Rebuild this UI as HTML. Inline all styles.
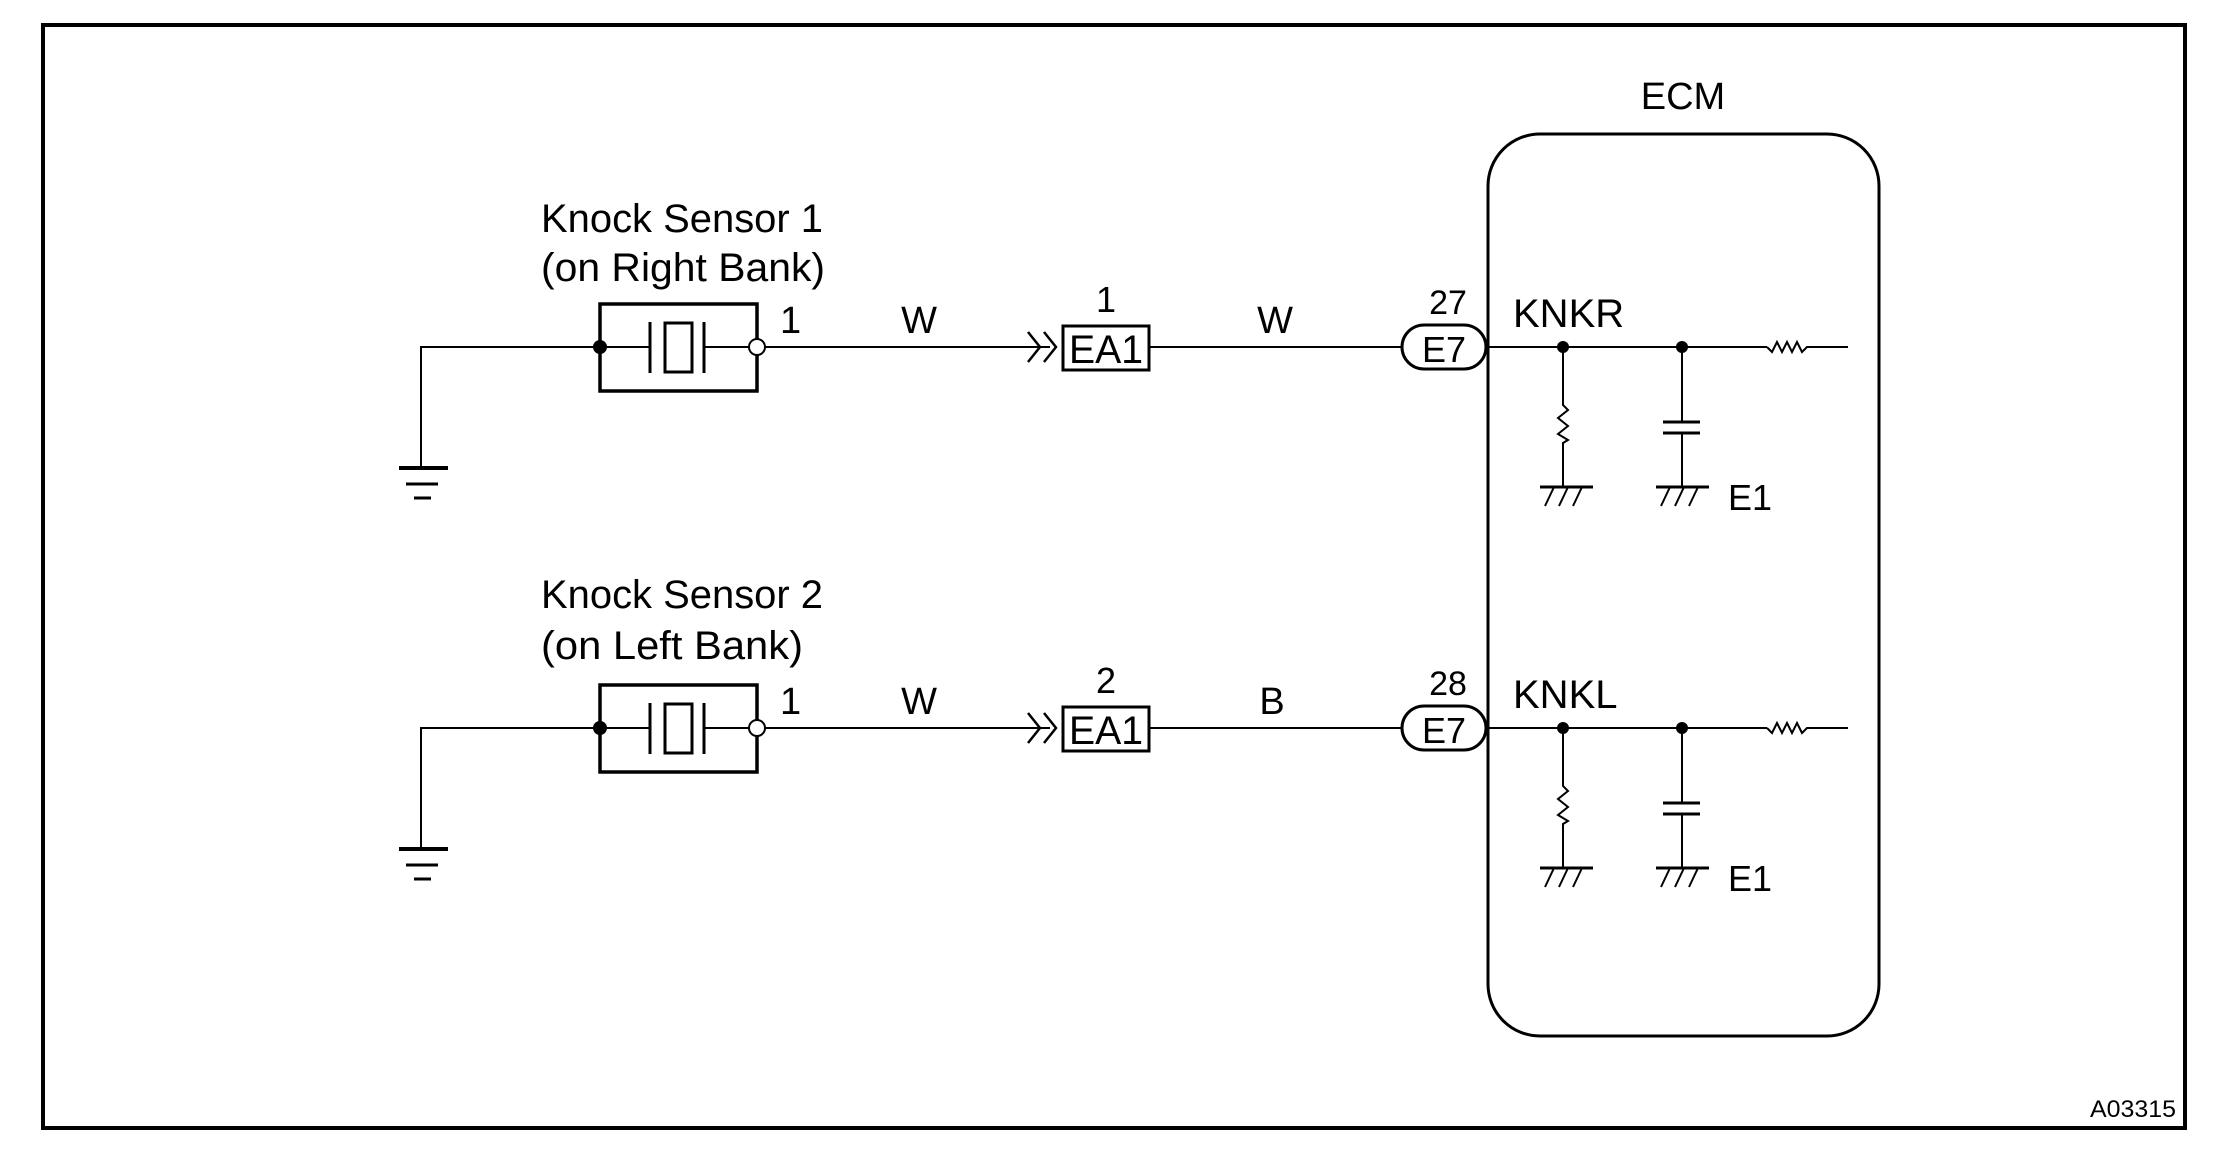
<!DOCTYPE html>
<html><head><meta charset="utf-8">
<style>
html,body{margin:0;padding:0;background:#fff;}
svg{display:block;}
text{font-family:"Liberation Sans",sans-serif;fill:#000;}
</style></head>
<body>
<svg width="2240" height="1154" viewBox="0 0 2240 1154" xmlns="http://www.w3.org/2000/svg">
<rect x="43" y="25" width="2142" height="1103" fill="none" stroke="#000" stroke-width="4"/>
<rect x="1488" y="134" width="391" height="902" rx="52" ry="52" fill="none" stroke="#000" stroke-width="3"/>
<text x="1683" y="109" font-size="38" text-anchor="middle">ECM</text>
<text x="2090" y="1117" font-size="24" textLength="86" lengthAdjust="spacingAndGlyphs">A03315</text>

<defs>
<g id="row" fill="none" stroke="#000">
  <!-- ground -->
  <polyline points="421,468 421,347 600,347" stroke-width="2"/>
  <line x1="399" y1="468" x2="448" y2="468" stroke-width="4"/>
  <line x1="406" y1="484" x2="438" y2="484" stroke-width="3"/>
  <line x1="414" y1="498" x2="431" y2="498" stroke-width="3"/>
  <!-- sensor -->
  <rect x="600" y="304" width="157" height="87" stroke-width="3.5"/>
  <line x1="600" y1="347" x2="650" y2="347" stroke-width="2"/>
  <line x1="704" y1="347" x2="757" y2="347" stroke-width="2"/>
  <line x1="650" y1="322" x2="650" y2="373" stroke-width="3"/>
  <line x1="704" y1="322" x2="704" y2="373" stroke-width="3"/>
  <rect x="665" y="323" width="27" height="49" stroke-width="3"/>
  <circle cx="600" cy="347" r="7" fill="#000" stroke="none"/>
  <circle cx="757" cy="347" r="8" fill="#fff" stroke-width="2"/>
  <!-- wire -->
  <line x1="765" y1="347" x2="1050" y2="347" stroke-width="2"/>
  <polyline points="1028,332 1040,347 1028,362" stroke-width="2.5"/>
  <polyline points="1044,332 1056,347 1044,362" stroke-width="2.5"/>
  <rect x="1063" y="326" width="86" height="44" stroke-width="3"/>
  <line x1="1149" y1="347" x2="1401" y2="347" stroke-width="2"/>
  <rect x="1402" y="325" width="84" height="44" rx="22" ry="22" stroke-width="3"/>
  <!-- ECM internal -->
  <line x1="1488" y1="347" x2="1767" y2="347" stroke-width="2"/>
  <polyline points="1767,347 1772,352 1777,342 1782,352 1787,342 1792,352 1797,342 1802,352 1807,347 1848,347" stroke-width="2"/>
  <circle cx="1563" cy="347" r="6" fill="#000" stroke="none"/>
  <circle cx="1682" cy="347" r="6" fill="#000" stroke="none"/>
  <polyline points="1563,347 1563,405 1568,410 1558,418 1568,426 1558,434 1568,440 1563,443 1563,487" stroke-width="2"/>
  <line x1="1682" y1="347" x2="1682" y2="422" stroke-width="2"/>
  <line x1="1682" y1="433" x2="1682" y2="487" stroke-width="2"/>
  <line x1="1663" y1="422" x2="1700" y2="422" stroke-width="3"/>
  <line x1="1663" y1="433" x2="1700" y2="433" stroke-width="3"/>
  <line x1="1540" y1="487" x2="1593" y2="487" stroke-width="3"/>
  <line x1="1554" y1="487" x2="1545" y2="506" stroke-width="2"/>
  <line x1="1568" y1="487" x2="1559" y2="506" stroke-width="2"/>
  <line x1="1582" y1="487" x2="1573" y2="506" stroke-width="2"/>
  <line x1="1656" y1="487" x2="1709" y2="487" stroke-width="3"/>
  <line x1="1670" y1="487" x2="1661" y2="506" stroke-width="2"/>
  <line x1="1684" y1="487" x2="1675" y2="506" stroke-width="2"/>
  <line x1="1698" y1="487" x2="1689" y2="506" stroke-width="2"/>
</g>
</defs>

<use href="#row"/>
<use href="#row" transform="translate(0,381)"/>

<!-- row 1 texts -->
<text x="541" y="232" font-size="40" textLength="282" lengthAdjust="spacingAndGlyphs">Knock Sensor 1</text>
<text x="541" y="281" font-size="40" textLength="284" lengthAdjust="spacingAndGlyphs">(on Right Bank)</text>
<text x="780" y="333" font-size="38">1</text>
<text x="919" y="333" font-size="38" text-anchor="middle">W</text>
<text x="1106" y="312" font-size="36" text-anchor="middle">1</text>
<text x="1106" y="363" font-size="40" text-anchor="middle" textLength="74" lengthAdjust="spacingAndGlyphs">EA1</text>
<text x="1275" y="333" font-size="38" text-anchor="middle">W</text>
<text x="1448" y="314" font-size="34" text-anchor="middle">27</text>
<text x="1444" y="362" font-size="36" text-anchor="middle">E7</text>
<text x="1513" y="327" font-size="40">KNKR</text>
<text x="1728" y="510" font-size="36">E1</text>

<!-- row 2 texts -->
<text x="541" y="608" font-size="40" textLength="282" lengthAdjust="spacingAndGlyphs">Knock Sensor 2</text>
<text x="541" y="659" font-size="40" textLength="262" lengthAdjust="spacingAndGlyphs">(on Left Bank)</text>
<text x="780" y="714" font-size="38">1</text>
<text x="919" y="714" font-size="38" text-anchor="middle">W</text>
<text x="1106" y="693" font-size="36" text-anchor="middle">2</text>
<text x="1106" y="744" font-size="40" text-anchor="middle" textLength="74" lengthAdjust="spacingAndGlyphs">EA1</text>
<text x="1272" y="714" font-size="38" text-anchor="middle">B</text>
<text x="1448" y="695" font-size="34" text-anchor="middle">28</text>
<text x="1444" y="743" font-size="36" text-anchor="middle">E7</text>
<text x="1513" y="708" font-size="40">KNKL</text>
<text x="1728" y="891" font-size="36">E1</text>
</svg>
</body></html>
